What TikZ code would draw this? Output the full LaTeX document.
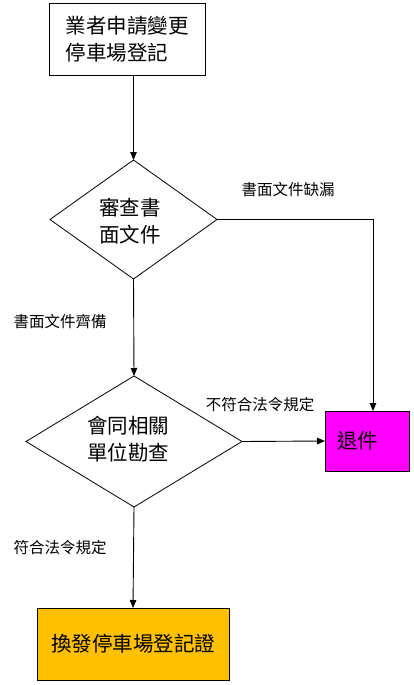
\documentclass[tikz,border=0pt]{standalone}
\usepackage{fontspec}
\setmainfont{Noto Sans CJK TC}
\usetikzlibrary{shapes.geometric,arrows.meta}
\definecolor{retcol}{HTML}{FF00FF}
\definecolor{fincol}{HTML}{FFC000}
\begin{document}
\begin{tikzpicture}[x=1pt,y=-1pt,
  every node/.style={inner sep=0pt,outer sep=0pt},
  boxnode/.style={draw,line width=0.9pt,rectangle},
  decnode/.style={draw,line width=0.8pt,diamond},
  maintext/.style={font=\fontsize{20.5}{27}\selectfont,align=left},
  lbltext/.style={font=\fontsize{15.5}{18}\selectfont},
  conn/.style={line width=0.9pt},
  arr/.style={conn,-{Triangle[length=8pt,width=6.5pt]}}]
\useasboundingbox (0,0) rectangle (414,685);
\node[boxnode,minimum width=156pt,minimum height=72pt,maintext] (box1) at (127,39) {業者申請變更\\停車場登記};
\node[decnode,minimum width=167pt,minimum height=119pt] (d1) at (133.5,219.5) {};
\node[maintext] (d1t) at (130,221) {審查書\\面文件};
\node[decnode,minimum width=216pt,minimum height=131pt] (d2) at (134,441.5) {};
\node[maintext] (d2t) at (128,439) {會同相關\\單位勘查};
\node[boxnode,fill=retcol,minimum width=84pt,minimum height=60pt] (ret) at (367,441) {};
\node[maintext,anchor=west] (rett) at (337,441) {退件};
\node[boxnode,fill=fincol,minimum width=192pt,minimum height=72pt,maintext] (fin) at (133,644) {換發停車場登記證};
\coordinate (retin) at ([xshift=6pt]ret.north);
\draw[arr] (box1.south -| d1.north) -- (d1.north);
\draw[arr] (d1.east) -| (retin);
\draw[arr] (d1.south) -- (d2.north);
\draw[arr] (d2.east) -- (ret.west);
\draw[arr] (d2.south) -- (fin.north);
\node[lbltext] (l1) at (288,190) {書面文件缺漏};
\node[lbltext] (l2) at (60,322) {書面文件齊備};
\node[lbltext] (l3) at (260,405) {不符合法令規定};
\node[lbltext] (l4) at (60,548) {符合法令規定};
\end{tikzpicture}
\end{document}
